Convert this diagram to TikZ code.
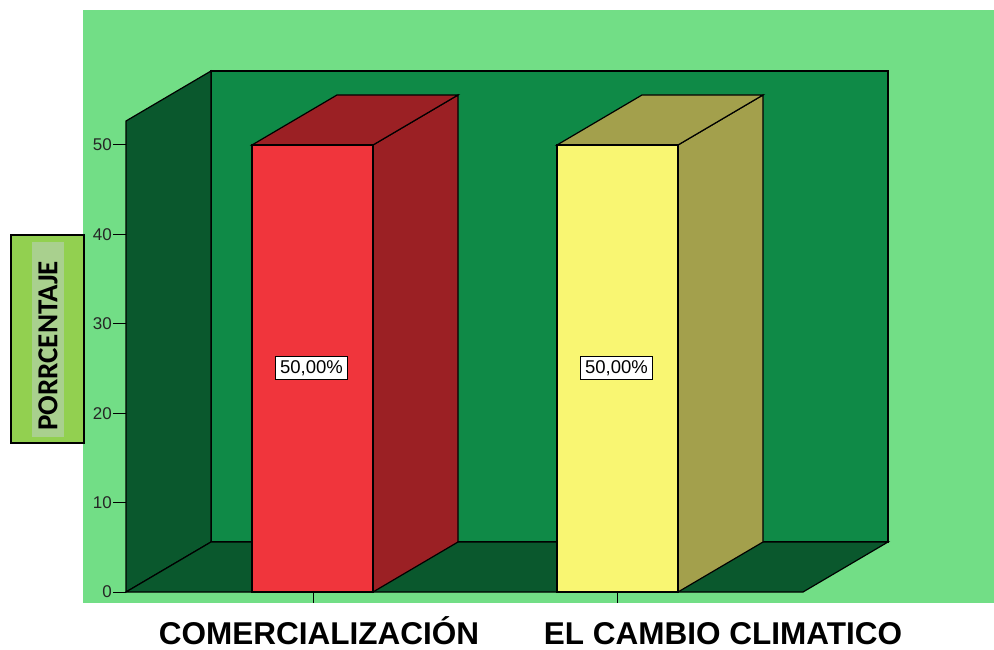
\documentclass[tikz,border=0pt]{standalone}
\usepackage{fontspec}
\setmainfont{Liberation Sans}
\newfontfamily\calfont{Carlito}
\definecolor{bggreen}{RGB}{114,222,134}
\definecolor{wallgreen}{RGB}{15,138,71}
\definecolor{darkgreen}{RGB}{10,88,45}
\definecolor{redfront}{RGB}{240,53,60}
\definecolor{redside}{RGB}{155,32,36}
\definecolor{yellowfront}{RGB}{249,246,114}
\definecolor{yellowside}{RGB}{163,160,76}
\definecolor{labelgreen}{RGB}{146,208,80}
\definecolor{labelhigh}{RGB}{169,208,142}
\begin{document}
\begin{tikzpicture}[x=1pt,y=1pt]
  \useasboundingbox (0,0) rectangle (994,649);
  \fill[bggreen] (83,46) rectangle (994,639);

  % back wall, left wall and floor
  \filldraw[fill=wallgreen, draw=black, line width=1.2pt] (211,107) rectangle (888,578);
  \filldraw[fill=darkgreen, draw=black, line width=1.2pt] (126,57) -- (126,528) -- (211,578) -- (211,107) -- cycle;
  \filldraw[fill=darkgreen, draw=black, line width=1.2pt] (126,57) -- (211,107) -- (888,107) -- (803,57) -- cycle;

  % value axis
  \foreach \v in {0,10,...,50} {
    \pgfmathsetmacro{\y}{57+\v*8.94}
    \draw[line width=1pt] (113,\y) -- (126,\y);
    \node[anchor=east, inner sep=1pt, text=black!85, font=\fontsize{17}{19}\selectfont] (tick\v) at (113,\y) {\v};
  }

  % category ticks
  \draw[line width=1pt] (313,57) -- (313,46);
  \draw[line width=1pt] (617,57) -- (617,46);

  % bars
  \foreach \x/\front/\side/\nm in {252/redfront/redside/com, 557/yellowfront/yellowside/cli} {
    \pgfmathsetmacro{\xr}{\x+121}
    \pgfmathsetmacro{\xc}{\x+60.5}
    \filldraw[fill=\side, draw=black, line width=1.2pt] (\xr,57) -- (\xr,504) -- (\xr+85,554) -- (\xr+85,107) -- cycle;
    \filldraw[fill=\side, draw=black, line width=1.2pt] (\x,504) -- (\x+85,554) -- (\xr+85,554) -- (\xr,504) -- cycle;
    \filldraw[fill=\front, draw=black, line width=1.2pt] (\x,57) rectangle (\xr,504);
    \node[draw, fill=white, line width=0.8pt, inner xsep=4.5pt, inner ysep=1pt, minimum height=23pt,
          font=\fontsize{18.5}{20}\selectfont] (val\nm) at (\xc-1,281) {50,00\%};
  }

  % axis title
  \node[draw, line width=1.6pt, fill=labelgreen, minimum width=73pt, minimum height=208pt, inner sep=0pt] (ytitlebox) at (47.5,310) {};
  \fill[labelhigh] (32,212) rectangle (64,407);
  \node[rotate=90, inner sep=0pt, font=\calfont\bfseries\fontsize{29}{32}\selectfont] (ytitle) at (48,303) {PORRCENTAJE};

  % category names
  \node[anchor=base, inner sep=0pt, font=\bfseries\fontsize{31.5}{36}\selectfont] (catcom) at (319,5) {COMERCIALIZACIÓN};
  \node[anchor=base, inner sep=0pt, font=\bfseries\fontsize{31.5}{36}\selectfont] (catcli) at (723,5) {EL CAMBIO CLIMATICO};
\end{tikzpicture}
\end{document}
